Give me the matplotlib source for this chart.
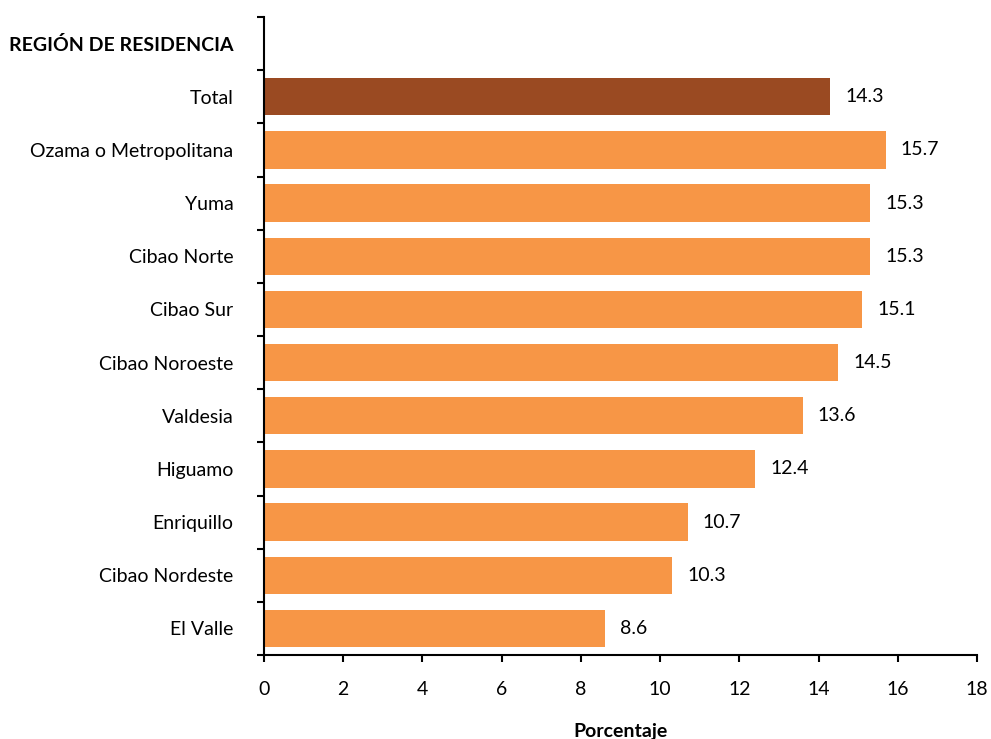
#!/usr/bin/env python3

import matplotlib.pyplot as plt
from matplotlib.ticker import FixedLocator

plt.rcParams["font.family"] = ["Lato", "DejaVu Sans"]

# Porcentaje por region de residencia
regions = [
    "Total",
    "Ozama o Metropolitana",
    "Yuma",
    "Cibao Norte",
    "Cibao Sur",
    "Cibao Noroeste",
    "Valdesia",
    "Higuamo",
    "Enriquillo",
    "Cibao Nordeste",
    "El Valle",
]
values = [14.3, 15.7, 15.3, 15.3, 15.1, 14.5, 13.6, 12.4, 10.7, 10.3, 8.6]
header = "REGIÓN DE RESIDENCIA"

colors = ["#9A4A22"] + ["#F79646"] * (len(regions) - 1)

fig = plt.figure(figsize=(9.91, 7.39), dpi=100)
ax = fig.add_axes([264 / 991, 1 - 655 / 739, (977 - 264) / 991, (655 - 17) / 739])

# slot 0 is the header row, bars start at slot 1
ypos = list(range(1, len(regions) + 1))
bars = ax.barh(ypos, values, height=0.7, color=colors)

for bar, v in zip(bars, values):
    ax.text(bar.get_width() + 0.38, bar.get_y() + bar.get_height() / 2,
            f"{v:.1f}", va="center", ha="left", fontsize=14)

ax.set_ylim(len(regions) + 0.5, -0.5)
ax.set_xlim(0, 18)
ax.set_xticks(range(0, 19, 2))

ax.set_yticks([0] + ypos)
ax.set_yticklabels([header] + regions, fontsize=14)
ax.get_yticklabels()[0].set_fontweight("bold")
ax.tick_params(axis="y", length=0, pad=22)
ax.yaxis.set_minor_locator(FixedLocator([i + 0.5 for i in range(-1, len(regions) + 1)]))
ax.tick_params(axis="y", which="minor", length=5, width=1.5, direction="out")

ax.tick_params(axis="x", labelsize=14, length=5, width=1.5, direction="out", pad=14)
ax.set_xlabel("Porcentaje", fontsize=14, fontweight="bold", labelpad=18)

for side in ["top", "right"]:
    ax.spines[side].set_visible(False)
for side in ["left", "bottom"]:
    ax.spines[side].set_linewidth(1.5)

fig.savefig("out.png", dpi=100)
